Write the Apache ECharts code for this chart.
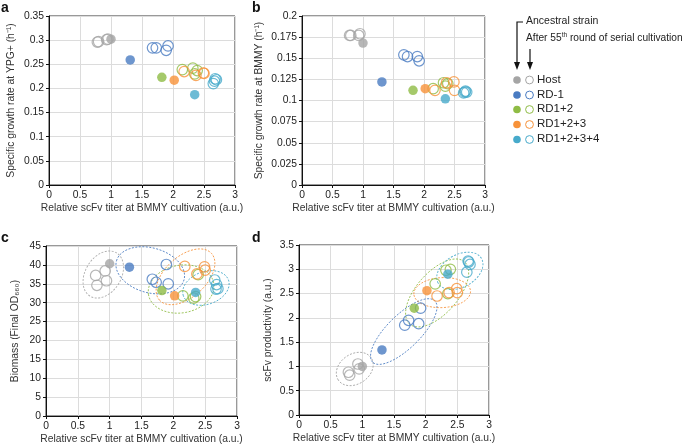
<!DOCTYPE html>
<html><head><meta charset="utf-8">
<script src="https://cdn.jsdelivr.net/npm/echarts@6/dist/echarts.min.js"></script>
<style>html,body{margin:0;padding:0;background:#fff}#c{width:685px;height:447px}</style>
</head><body><div id="c"></div>
<script>
// ---------- DATA ----------
const strains = ['Host', 'RD-1', 'RD1+2', 'RD1+2+3', 'RD1+2+3+4'];
// x: relative scFv titer at BMMY cultivation (a.u.)
const ancestralTiter = [1.00, 1.31, 1.82, 2.02, 2.35];
const evolvedTiter = [
  [0.78, 0.80, 0.93, 0.95],
  [1.67, 1.73, 1.89, 1.92],
  [2.15, 2.32, 2.35, 2.39],
  [2.18, 2.37, 2.49, 2.50],
  [2.65, 2.67, 2.68, 2.70]
];
// a: specific growth rate at YPG+ (h-1)
const ancestralYPG = [0.302, 0.259, 0.223, 0.217, 0.187];
const evolvedYPG = [
  [0.296, 0.297, 0.301, 0.302],
  [0.284, 0.284, 0.279, 0.288],
  [0.239, 0.242, 0.230, 0.237],
  [0.235, 0.227, 0.232, 0.231],
  [0.210, 0.215, 0.220, 0.218]
];
// b: specific growth rate at BMMY (h-1)
const ancestralBMMY = [0.168, 0.122, 0.112, 0.114, 0.102];
const evolvedBMMY = [
  [0.177, 0.177, 0.177, 0.179],
  [0.154, 0.152, 0.152, 0.147],
  [0.114, 0.121, 0.117, 0.120],
  [0.112, 0.121, 0.122, 0.112],
  [0.109, 0.110, 0.111, 0.110]
];
// c: biomass (final OD660)
const ancestralBiomass = [40.3, 39.4, 33.2, 31.8, 32.7];
const evolvedBiomass = [
  [37.2, 34.6, 38.4, 35.8],
  [36.2, 35.4, 40.1, 35.0],
  [31.8, 31.2, 31.6, 37.4],
  [39.6, 37.6, 39.5, 38.6],
  [36.0, 33.6, 34.8, 33.7]
];
// d: scFv productivity (a.u.)
const ancestralProd = [1.00, 1.34, 2.20, 2.56, 2.90];
const evolvedProd = [
  [0.88, 0.82, 1.05, 0.95],
  [1.85, 1.95, 1.88, 2.20],
  [2.70, 2.98, 2.50, 3.00],
  [2.45, 2.52, 2.60, 2.52],
  [2.94, 3.17, 3.15, 3.10]
];
const xTicks = {min: 0, max: 3, interval: 0.5};
const yTicksA = {min: 0, max: 0.35, interval: 0.05};
const yTicksB = {min: 0, max: 0.2, interval: 0.025};
const yTicksC = {min: 0, max: 45, interval: 5};
const yTicksD = {min: 0, max: 3.5, interval: 0.5};

// ---------- STYLE ----------
const colors = ['#a5a5a5', '#4a7cc2', '#8fbc45', '#f7923a', '#47aacb'];
const FONT = 'Liberation Sans, Arial, sans-serif';
const xTitle = 'Relative scFv titer at BMMY cultivation (a.u.)';

const panels = [
  {grid: {left: 49, top: 16, width: 186, height: 169}, y: yTicksA, anc: ancestralYPG, evo: evolvedYPG,
   yName: 'Specific growth rate at YPG+ (h\u207B\u00B9)', ell: false, yGap: 33},
  {grid: {left: 302, top: 16, width: 183, height: 169}, y: yTicksB, anc: ancestralBMMY, evo: evolvedBMMY,
   yName: 'Specific growth rate at BMMY (h\u207B\u00B9)', ell: false, yGap: 38},
  {grid: {left: 46, top: 246, width: 191, height: 170}, y: yTicksC, anc: ancestralBiomass, evo: evolvedBiomass,
   yName: 'Biomass (Final OD\u2086\u2086\u2080)', ell: true, yGap: 26},
  {grid: {left: 299, top: 245, width: 190, height: 170}, y: yTicksD, anc: ancestralProd, evo: evolvedProd,
   yName: 'scFv productivity (a.u.)', ell: true, yGap: 26}
];

const grids = [], xAxes = [], yAxes = [], series = [];
function fmt(v) { return String(+v.toFixed(3)); }

panels.forEach((p, k) => {
  grids.push(Object.assign({show: true, borderColor: '#333', borderWidth: 1, backgroundColor: 'transparent'}, p.grid));
  xAxes.push({
    gridIndex: k, type: 'value', min: xTicks.min, max: xTicks.max, interval: xTicks.interval,
    name: xTitle, nameLocation: 'middle', nameGap: 18,
    nameTextStyle: {fontFamily: FONT, fontSize: 10.3, color: '#333'},
    axisLine: {show: true, onZero: false, lineStyle: {color: '#111', width: 1}},
    axisTick: {show: true, inside: false, length: 3, lineStyle: {color: '#111'}},
    axisLabel: {fontFamily: FONT, fontSize: 10.3, color: '#222', margin: 5, formatter: fmt},
    splitLine: {show: true, lineStyle: {color: '#dcdcdc', width: 1}}
  });
  yAxes.push({
    gridIndex: k, type: 'value', min: p.y.min, max: p.y.max, interval: p.y.interval,
    name: p.yName, nameLocation: 'middle', nameGap: p.yGap,
    nameTextStyle: {fontFamily: FONT, fontSize: 10.3, color: '#333'},
    axisLine: {show: true, onZero: false, lineStyle: {color: '#111', width: 1}},
    axisTick: {show: true, inside: false, length: 3, lineStyle: {color: '#111'}},
    axisLabel: {fontFamily: FONT, fontSize: 10.3, color: '#222', margin: 5, formatter: fmt},
    splitLine: {show: true, lineStyle: {color: '#dcdcdc', width: 1}}
  });

  if (p.ell) {
    series.push({
      type: 'custom', xAxisIndex: k, yAxisIndex: k, silent: true, z: 1,
      data: strains.map((s, i) => [ancestralTiter[i], p.anc[i], i]),
      clip: false,
      renderItem: function (params, api) {
        const i = api.value(2);
        const pts = [api.coord([ancestralTiter[i], p.anc[i]])];
        evolvedTiter[i].forEach((x, j) => pts.push(api.coord([x, p.evo[i][j]])));
        const n = pts.length;
        let mx = 0, my = 0;
        pts.forEach(q => { mx += q[0]; my += q[1]; });
        mx /= n; my /= n;
        let sxx = 0, syy = 0, sxy = 0;
        pts.forEach(q => { const dx = q[0] - mx, dy = q[1] - my; sxx += dx * dx; syy += dy * dy; sxy += dx * dy; });
        const th = 0.5 * Math.atan2(2 * sxy, sxx - syy);
        const ux = Math.cos(th), uy = Math.sin(th), vx = -Math.sin(th), vy = Math.cos(th);
        let minU = 1e9, maxU = -1e9, minV = 1e9, maxV = -1e9;
        pts.forEach(q => {
          const dx = q[0] - mx, dy = q[1] - my;
          const pu = dx * ux + dy * uy, pv = dx * vx + dy * vy;
          minU = Math.min(minU, pu); maxU = Math.max(maxU, pu);
          minV = Math.min(minV, pv); maxV = Math.max(maxV, pv);
        });
        const cu = (minU + maxU) / 2, cv = (minV + maxV) / 2;
        const cx = mx + ux * cu + vx * cv, cy = my + uy * cu + vy * cv;
        const rx = (maxU - minU) / 2 * 1.15 + 11;
        const ry = Math.max((maxV - minV) / 2 * 1.15 + 11, 15);
        return {
          type: 'ellipse', x: cx, y: cy, rotation: -th,
          shape: {cx: 0, cy: 0, rx: rx, ry: ry},
          style: {fill: 'none', stroke: colors[i], lineWidth: 0.9, lineDash: [2, 1.5], opacity: 0.9}
        };
      }
    });
  }

  strains.forEach((s, i) => {
    series.push({
      name: s + ' evolved', type: 'scatter', xAxisIndex: k, yAxisIndex: k, z: 3,
      symbol: 'circle', symbolSize: 10.5,
      itemStyle: {color: 'rgba(255,255,255,0)', borderColor: colors[i], borderWidth: 1.2},
      data: evolvedTiter[i].map((x, j) => [x, p.evo[i][j]])
    });
    series.push({
      name: s + ' ancestral', type: 'scatter', xAxisIndex: k, yAxisIndex: k, z: 4,
      symbol: 'circle', symbolSize: 9.5,
      itemStyle: {color: colors[i], borderWidth: 0},
      data: [[ancestralTiter[i], p.anc[i]]]
    });
  });
});

// ---------- LEGEND / ANNOTATIONS (graphic) ----------
const graphic = [];
const panelLabels = [['a', 1, 8], ['b', 252, 8], ['c', 1, 238], ['d', 252, 238]];
panelLabels.forEach(l => graphic.push({
  type: 'text', left: l[1], top: l[2] - 7,
  style: {text: l[0], font: 'bold 14px ' + FONT, fill: '#111'}
}));
// arrows
const arrowCol = '#111';
graphic.push({type: 'polyline', shape: {points: [[523, 22], [517, 22], [517, 64]]}, style: {stroke: arrowCol, lineWidth: 1.2, fill: 'none'}});
graphic.push({type: 'polygon', shape: {points: [[514, 62], [520, 62], [517, 70]]}, style: {fill: arrowCol}});
graphic.push({type: 'line', shape: {x1: 530, y1: 49, x2: 530, y2: 64}, style: {stroke: arrowCol, lineWidth: 1.2}});
graphic.push({type: 'polygon', shape: {points: [[527, 62], [533, 62], [530, 70]]}, style: {fill: arrowCol}});
graphic.push({type: 'text', left: 526, top: 16, style: {text: 'Ancestral strain', font: '10.5px ' + FONT, fill: '#222'}});
graphic.push({type: 'text', left: 526, top: 32, style: {
  text: 'After 55{sup|th} round of serial cultivation', font: '10.2px ' + FONT, fill: '#222',
  rich: {sup: {fontSize: 6.5, fontFamily: FONT, fill: '#222', padding: [0, 0, 5, 0]}}
}});
const legY = [80, 95, 109.5, 124.5, 139.5];
strains.forEach((s, i) => {
  graphic.push({type: 'circle', shape: {cx: 517, cy: legY[i], r: 3.8}, style: {fill: colors[i]}});
  graphic.push({type: 'circle', shape: {cx: 529.5, cy: legY[i], r: 3.9}, style: {fill: '#fff', stroke: colors[i], lineWidth: 1}});
  graphic.push({type: 'text', left: 537, top: legY[i] - 6.5, style: {text: s, font: '11.5px ' + FONT, fill: '#222'}});
});

const chart = echarts.init(document.getElementById('c'), null, {renderer: 'canvas'});
chart.setOption({
  animation: false, backgroundColor: '#fff',
  grid: grids, xAxis: xAxes, yAxis: yAxes, series: series, graphic: graphic
});
</script></body></html>
